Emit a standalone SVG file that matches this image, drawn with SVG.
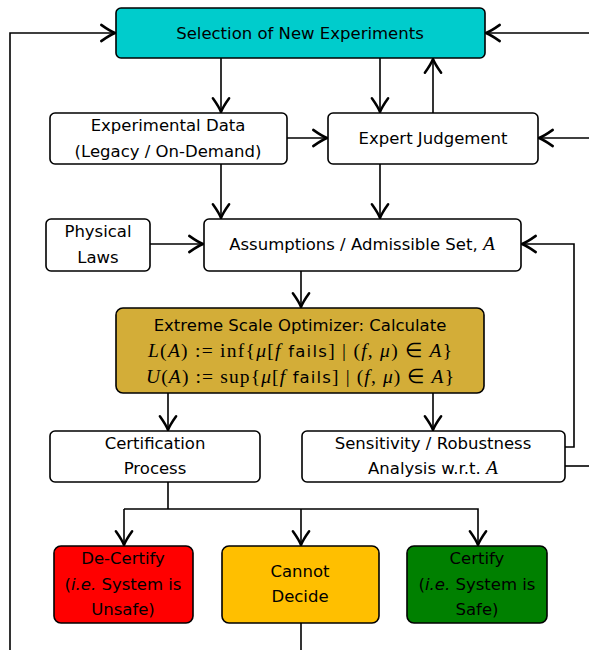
<svg xmlns="http://www.w3.org/2000/svg" width="589" height="650" viewBox="0 0 589 650">
<defs>
<marker id="ah" markerUnits="userSpaceOnUse" markerWidth="20" markerHeight="20" viewBox="-12 -8 14 16" refX="0" refY="0" orient="auto">
<path d="M-11,-6.5 Q-4,-1.5 0,0 Q-4,1.5 -11,6.5" fill="none" stroke="#000" stroke-width="2" stroke-linecap="round" stroke-linejoin="round"/>
</marker>
<style>
.box{stroke:#000;stroke-width:1.6}
.t{font-family:"DejaVu Sans","Liberation Sans",sans-serif;font-size:16.5px;text-anchor:middle;fill:#000}
.m{font-family:"Liberation Serif",serif;font-style:italic;font-size:19.5px}
.r{font-family:"Liberation Serif",serif;font-style:normal;font-size:19.5px}
.c{fill:none;stroke:#000;stroke-width:1.6}
.a{marker-end:url(#ah)}
</style>
</defs>
<g id="connectors">
<path class="c a" d="M10,650 V33 H115"/>
<path class="c a" d="M589,33 H486"/>
<path class="c a" d="M221,58 V112"/>
<path class="c a" d="M380,58 V112"/>
<path class="c a" d="M433,113 V59"/>
<path class="c a" d="M287,138 H327"/>
<path class="c a" d="M589,138 H539"/>
<path class="c a" d="M221,164 V218"/>
<path class="c a" d="M380,164 V218"/>
<path class="c a" d="M150,244 H203"/>
<path class="c a" d="M565,447 H574 V244 H522"/>
<path class="c" d="M565,466 H589"/>
<path class="c a" d="M301,271 V307"/>
<path class="c a" d="M168,393 V430"/>
<path class="c a" d="M433,393 V430"/>
<path class="c" d="M168,482 V509"/>
<path class="c a" d="M124,509 H478 V545"/>
<path class="c a" d="M301,509 V545"/>
<path class="c a" d="M124,509 V545"/>
<path class="c" d="M301,623 V650"/>
</g>
<g id="selection">
<rect class="box" x="116" y="8" width="369" height="50" rx="5" fill="#00CCCC"/>
<text class="t" x="300" y="39">Selection of New Experiments</text>
</g>
<g id="experimental-data">
<rect class="box" x="50" y="113" width="237" height="51" rx="5" fill="#fff"/>
<text class="t" x="168" y="131">Experimental Data</text>
<text class="t" x="168" y="157">(Legacy / On-Demand)</text>
</g>
<g id="expert-judgement">
<rect class="box" x="328" y="113" width="210" height="51" rx="5" fill="#fff"/>
<text class="t" x="433" y="144">Expert Judgement</text>
</g>
<g id="physical-laws">
<rect class="box" x="46" y="219" width="104" height="52" rx="5" fill="#fff"/>
<text class="t" x="98" y="237">Physical</text>
<text class="t" x="98" y="263">Laws</text>
</g>
<g id="assumptions">
<rect class="box" x="204" y="219" width="317" height="52" rx="5" fill="#fff"/>
<text class="t" x="362" y="250">Assumptions / Admissible Set, <tspan class="m">A</tspan></text>
</g>
<g id="optimizer">
<rect class="box" x="116" y="308" width="368" height="85" rx="7" fill="#D3AD38"/>
<text class="t" x="300" y="331">Extreme Scale Optimizer: Calculate</text>
<text class="t" x="300" y="357" textLength="304" lengthAdjust="spacing"><tspan class="m">L</tspan><tspan class="r">(</tspan><tspan class="m">A</tspan><tspan class="r">) := inf{</tspan><tspan class="m">μ</tspan><tspan class="r">[</tspan><tspan class="m">f</tspan> fails<tspan class="r">] | (</tspan><tspan class="m">f</tspan><tspan class="r">, </tspan><tspan class="m">μ</tspan><tspan class="r">) ∈ </tspan><tspan class="m">A</tspan><tspan class="r">}</tspan></text>
<text class="t" x="300" y="383" textLength="308" lengthAdjust="spacing"><tspan class="m">U</tspan><tspan class="r">(</tspan><tspan class="m">A</tspan><tspan class="r">) := sup{</tspan><tspan class="m">μ</tspan><tspan class="r">[</tspan><tspan class="m">f</tspan> fails<tspan class="r">] | (</tspan><tspan class="m">f</tspan><tspan class="r">, </tspan><tspan class="m">μ</tspan><tspan class="r">) ∈ </tspan><tspan class="m">A</tspan><tspan class="r">}</tspan></text>
</g>
<g id="certification">
<rect class="box" x="50" y="431" width="210" height="51" rx="5" fill="#fff"/>
<text class="t" x="155" y="449">Certification</text>
<text class="t" x="155" y="474">Process</text>
</g>
<g id="sensitivity">
<rect class="box" x="302" y="431" width="263" height="51" rx="5" fill="#fff"/>
<text class="t" x="433" y="449">Sensitivity / Robustness</text>
<text class="t" x="433" y="474">Analysis w.r.t. <tspan class="m">A</tspan></text>
</g>
<g id="de-certify">
<rect class="box" x="54" y="546" width="139" height="77" rx="7" fill="#FF0000"/>
<text class="t" x="123" y="564">De-Certify</text>
<text class="t" x="123" y="590">(<tspan font-style="italic">i.e.</tspan> System is</text>
<text class="t" x="123" y="615">Unsafe)</text>
</g>
<g id="cannot-decide">
<rect class="box" x="222" y="546" width="157" height="77" rx="7" fill="#FFBF00"/>
<text class="t" x="300" y="577">Cannot</text>
<text class="t" x="300" y="602">Decide</text>
</g>
<g id="certify">
<rect class="box" x="407" y="546" width="140" height="77" rx="7" fill="#008000"/>
<text class="t" x="477" y="564">Certify</text>
<text class="t" x="477" y="590">(<tspan font-style="italic">i.e.</tspan> System is</text>
<text class="t" x="477" y="615">Safe)</text>
</g>
</svg>
